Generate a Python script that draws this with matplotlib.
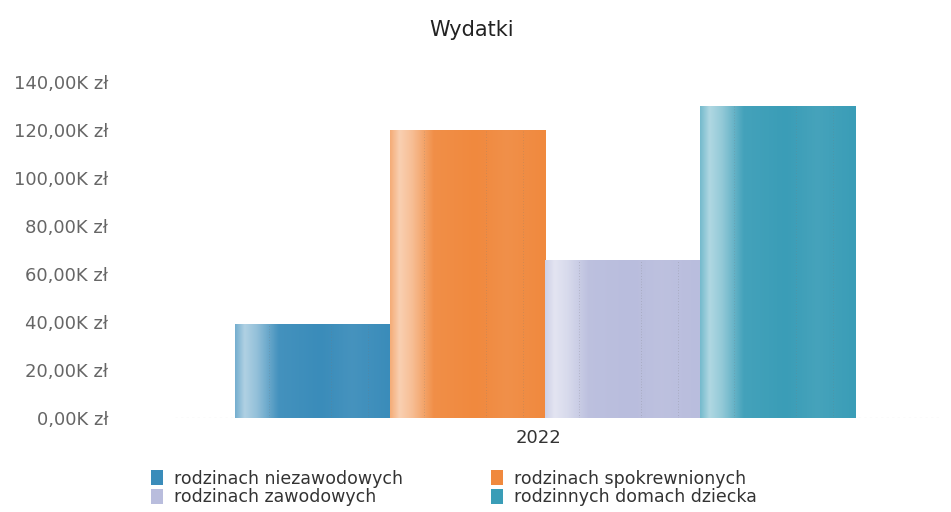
import matplotlib
matplotlib.use("Agg")
import matplotlib.pyplot as plt
import numpy as np
from matplotlib.colors import to_rgb
from matplotlib.patches import Patch
from matplotlib.ticker import FuncFormatter

plt.rcParams["font.family"] = ["DejaVu Sans"]

# data (thousands of zł)
series = ["rodzinach niezawodowych", "rodzinach spokrewnionych",
          "rodzinach zawodowych", "rodzinnych domach dziecka"]
values = [39, 120, 66, 130]
colors = ["#3a8cba", "#f0893e", "#b9bddd", "#3a9db7"]
category = "2022"
y_ticks = [0, 20, 40, 60, 80, 100, 120, 140]
legend_order = [0, 2, 1, 3]

# white-mix profile across each bar (left -> right)
prof_x = [0.0, 0.06, 0.14, 0.28, 0.55, 0.75, 1.0]
prof_w = [0.3, 0.6, 0.45, 0.05, 0.0, 0.06, 0.0]


def gradient_row(base, n=200):
    t = np.linspace(0, 1, n)
    w = np.interp(t, prof_x, prof_w)
    c = np.array(to_rgb(base))
    row = c[None, :] * (1 - w[:, None]) + w[:, None]
    return row[None, :, :]


fig = plt.figure(figsize=(9.51, 5.12), dpi=100)
ax = fig.add_axes([175 / 951, 94 / 512, 765 / 951, 360 / 512])

x = np.arange(len(values)) - (len(values) - 1) / 2
bars = ax.bar(x, values, width=1.0, color=colors, linewidth=0, zorder=2)
for b, c in zip(bars, colors):
    x0, y0 = b.get_x(), b.get_y()
    w, h = b.get_width(), b.get_height()
    im = ax.imshow(gradient_row(c), extent=[x0, x0 + w, y0, y0 + h],
                   aspect="auto", zorder=3, interpolation="bicubic")
    im.set_clip_path(b)
    for fx in (0.22, 0.62, 0.86):
        ax.plot([x0 + fx * w] * 2, [y0, y0 + h], color="#777777", lw=0.5,
                ls=(0, (1, 3)), alpha=0.5, zorder=4)

ax.set_xlim(-2.387, 2.548)
ax.set_ylim(0, 150)
ax.axhline(0, color="#bbbbbb", lw=0.8, ls=(0, (2, 3)), zorder=1)

ax.set_yticks(y_ticks)
ax.yaxis.set_major_formatter(FuncFormatter(lambda v, p: f"{v:.2f}".replace(".", ",") + "K zł"))
ax.set_xticks([-0.04])
ax.set_xticklabels([category])
ax.tick_params(axis="y", length=0, pad=48, labelsize=13, labelcolor="#666666")
ax.tick_params(axis="x", length=0, pad=8, labelsize=13, labelcolor="#333333")
for s in ax.spines.values():
    s.set_visible(False)

fig.text(472 / 951, 1 - 30 / 512, "Wydatki", ha="center", va="center",
         fontsize=15, color="#222222")

handles = [Patch(facecolor=colors[i], label=series[i]) for i in legend_order]
fig.legend(handles=handles, ncol=2, loc="center left",
           bbox_to_anchor=(135 / 951, 1 - 488 / 512), frameon=False,
           fontsize=12.5, handlelength=0.7, handleheight=0.9,
           handletextpad=0.65, columnspacing=5.05, labelspacing=0.05,
           labelcolor="#333333")

fig.savefig("out.png", dpi=100)
